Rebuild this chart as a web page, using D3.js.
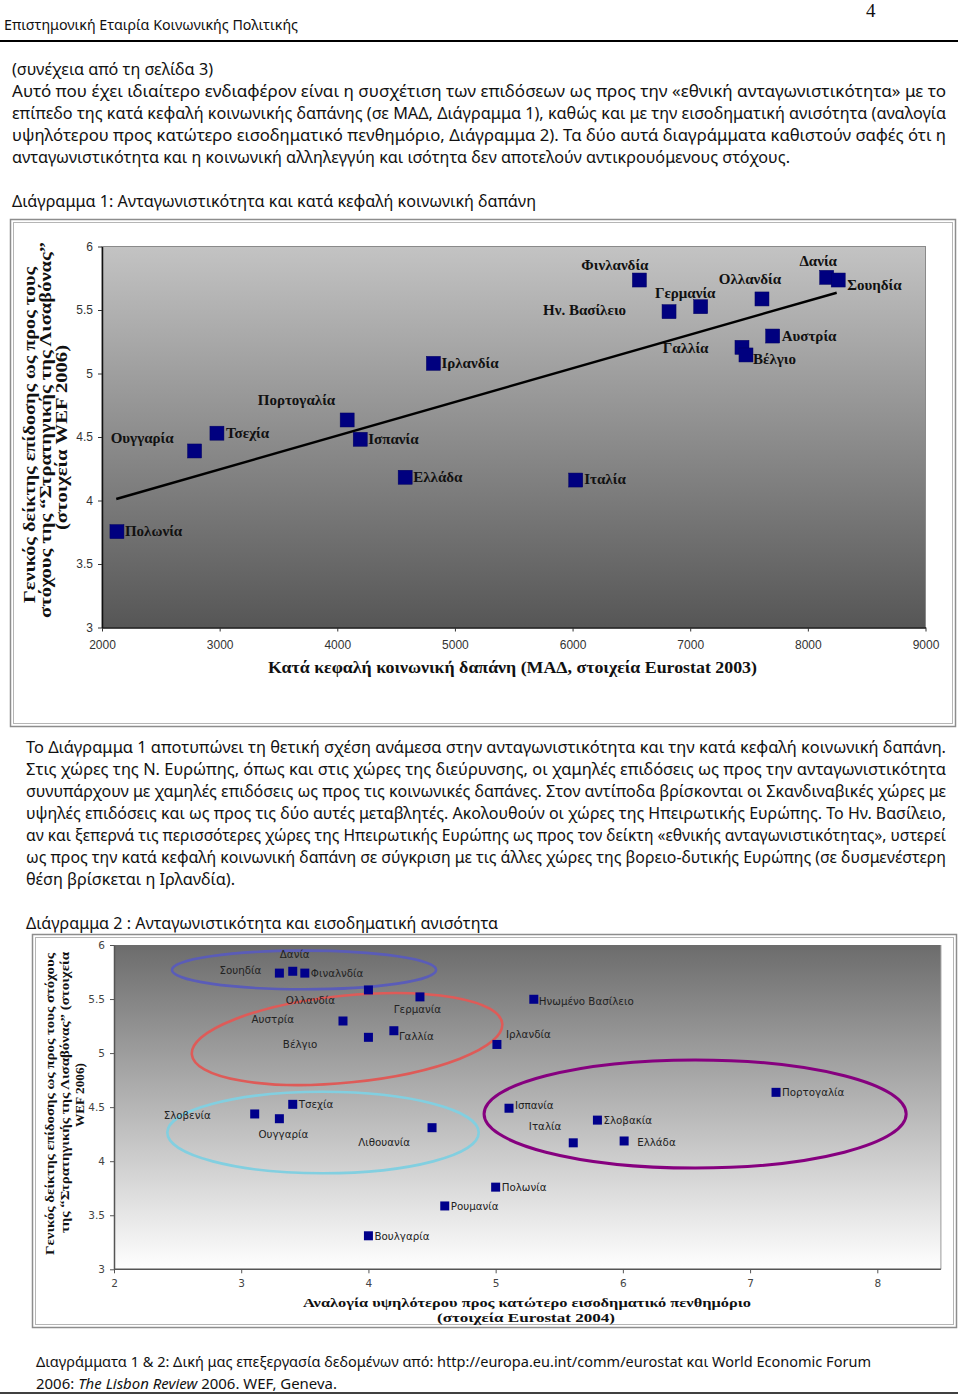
<!DOCTYPE html>
<html><head><meta charset="utf-8">
<script src="https://cdn.jsdelivr.net/npm/d3@7"></script>
<style>body{margin:0;background:#fff} svg{display:block}</style>
</head><body>
<svg id="page" width="960" height="1394"></svg>
<script>
// ---------- DATA ----------
const headerText = "Επιστημονική Εταιρία Κοινωνικής Πολιτικής";
const pageNumber = "4";
const para1Lines = [
  "(συνέχεια από τη σελίδα 3)",
  "Αυτό που έχει ιδιαίτερο ενδιαφέρον είναι η συσχέτιση των επιδόσεων ως προς την «εθνική ανταγωνιστικότητα» με το",
  "επίπεδο της κατά κεφαλή κοινωνικής δαπάνης  (σε ΜΑΔ, Διάγραμμα 1), καθώς και με την εισοδηματική ανισότητα (αναλογία",
  "υψηλότερου προς κατώτερο εισοδηματικό πενθημόριο, Διάγραμμα 2). Τα δύο αυτά διαγράμματα καθιστούν σαφές ότι η",
  "ανταγωνιστικότητα και η κοινωνική αλληλεγγύη και ισότητα δεν αποτελούν αντικρουόμενους στόχους."
];
const title1 = "Διάγραμμα 1: Ανταγωνιστικότητα και κατά κεφαλή κοινωνική δαπάνη";
const para2Lines = [
  "Το Διάγραμμα 1 αποτυπώνει τη θετική σχέση ανάμεσα στην ανταγωνιστικότητα και την κατά κεφαλή κοινωνική δαπάνη.",
  "Στις χώρες της Ν. Ευρώπης, όπως και στις χώρες της διεύρυνσης, οι χαμηλές επιδόσεις ως προς την ανταγωνιστικότητα",
  "συνυπάρχουν με χαμηλές επιδόσεις ως προς τις κοινωνικές δαπάνες. Στον αντίποδα βρίσκονται οι Σκανδιναβικές χώρες με",
  "υψηλές επιδόσεις και ως προς τις δύο αυτές μεταβλητές. Ακολουθούν οι χώρες της Ηπειρωτικής Ευρώπης. Το Ην. Βασίλειο,",
  "αν και ξεπερνά τις περισσότερες χώρες της Ηπειρωτικής Ευρώπης ως προς τον δείκτη «εθνικής ανταγωνιστικότητας», υστερεί",
  "ως προς την κατά κεφαλή κοινωνική δαπάνη σε σύγκριση με τις άλλες χώρες της βορειο-δυτικής Ευρώπης (σε δυσμενέστερη",
  "θέση βρίσκεται η Ιρλανδία)."
];
const title2 = "Διάγραμμα 2 : Ανταγωνιστικότητα και εισοδηματική ανισότητα";
const footer1 = "Διαγράμματα 1 & 2: Δική μας επεξεργασία δεδομένων από: http://europa.eu.int/comm/eurostat και World Economic Forum";
const footer2Parts = ["2006: ", "The Lisbon Review", " 2006. WEF, Geneva."];

// Chart 1
const countries1 = ["Πολωνία","Ουγγαρία","Τσεχία","Πορτογαλία","Ισπανία","Ελλάδα","Ιρλανδία","Ιταλία","Ην. Βασίλειο","Φινλανδία","Γερμανία","Ολλανδία","Δανία","Σουηδία","Αυστρία","Γαλλία","Βέλγιο"];
const spending1 = [2127,2787,2977,4084,4195,4577,4817,6027,6820,6568,7089,7610,8160,8258,7701,7440,7474];
const score1 =    [3.755,4.39,4.53,4.634,4.482,4.183,5.08,4.161,5.487,5.736,5.526,5.587,5.757,5.736,5.295,5.206,5.146];
const trendX1 = [2121, 8245];
const trendY1 = [4.012, 5.636];
const xTicks1 = [2000,3000,4000,5000,6000,7000,8000,9000];
const yTicks1 = [3,3.5,4,4.5,5,5.5,6];
const xTitle1 = "Κατά κεφαλή κοινωνική δαπάνη (ΜΑΔ, στοιχεία Eurostat 2003)";
const yTitle1 = ["Γενικός δείκτης επίδοσης ως προς τους","στόχους της “Στρατηγικής της Λισαβόνας”","(στοιχεία WEF 2006)"];

// Chart 2
const countries2 = ["Σουηδία","Δανία","Φιναλνδία","Ολλανδία","Γερμανία","Αυστρία","Βέλγιο","Γαλλία","Ηνωμένο Βασίλειο","Ιρλανδία","Τσεχία","Σλοβενία","Ουγγαρία","Λιθουανία","Πορτογαλία","Ισπανία","Σλοβακία","Ιταλία","Ελλάδα","Πολωνία","Ρουμανία","Βουλγαρία"];
const ratio2 = [3.30,3.405,3.50,4.00,4.405,3.80,4.00,4.20,5.30,5.01,3.405,3.106,3.30,4.50,7.204,5.105,5.80,5.61,6.01,5.00,4.60,4.00];
const score2 = [5.74,5.757,5.74,5.584,5.52,5.297,5.146,5.207,5.498,5.08,4.526,4.437,4.393,4.31,4.637,4.49,4.38,4.17,4.187,3.76,3.586,3.31];
const xTicks2 = [2,3,4,5,6,7,8];
const yTicks2 = [3,3.5,4,4.5,5,5.5,6];
const xTitle2 = ["Αναλογία υψηλότερου προς κατώτερο εισοδηματικό πενθημόριο","(στοιχεία Eurostat 2004)"];
const yTitle2 = ["Γενικός δείκτης επίδοσης ως προς τους στόχους","της “Στρατηγικής της Λισαβόνας”  (στοιχεία","WEF 2006)"];
// group ellipses (data units)
const ellCx = [3.494, 3.832, 3.643, 6.568];
const ellCy = [5.769, 5.130, 4.265, 4.437];
const ellRx = [1.038, 1.226, 1.224, 1.659];
const ellRy = [0.179, 0.402, 0.377, 0.500];
const ellAngle = [0, -5.7, 0, 0];

// ---------- LAYOUT / STYLE ----------
const ellColors = ["#5a5cb8","#de5b58","#82cfe0","#86007f"];
const bodyFont = "'Noto Sans', 'Open Sans', sans-serif";
const serifFont = "'Liberation Serif', 'DejaVu Serif', serif";

const svg = d3.select("#page");
svg.append("rect").attr("width",960).attr("height",1394).attr("fill","#fff");

function line(t, x, y, w, size, opts={}) {
  const el = svg.append("text").attr("x",x).attr("y",y).text(t)
    .attr("font-family", opts.family || bodyFont).attr("font-size",size).attr("fill", opts.fill || "#111");
  if (w) el.attr("textLength",w).attr("lengthAdjust","spacingAndGlyphs");
  return el;
}

// header
line(headerText, 4, 30, 294, 14.5);
line(pageNumber, 866, 17, null, 19, {family: serifFont});
svg.append("line").attr("x1",0).attr("x2",958).attr("y1",41).attr("y2",41).attr("stroke","#000").attr("stroke-width",2);

// paragraph 1
const p1W = [201,934,934,934,778];
para1Lines.forEach((t,i)=> line(t, 12, 75 + i*22, p1W[i], 15.5));
line(title1, 12, 207, 524, 15.5);

// paragraph 2
const p2W = [920,920,920,920,920,920,209];
para2Lines.forEach((t,i)=> line(t, 26, 753 + i*22, p2W[i], 15.5));
line(title2, 26, 929, 472, 15.5);

// footer
line(footer1, 36, 1367, 835, 15);
const f2 = svg.append("text").attr("x",36).attr("y",1389).attr("font-family",bodyFont).attr("font-size",15).attr("fill","#111")
  .attr("textLength",301).attr("lengthAdjust","spacingAndGlyphs");
f2.append("tspan").text(footer2Parts[0]);
f2.append("tspan").attr("font-style","italic").text(footer2Parts[1]);
f2.append("tspan").text(footer2Parts[2]);
svg.append("line").attr("x1",0).attr("x2",958).attr("y1",1393).attr("y2",1393).attr("stroke","#000").attr("stroke-width",1.5);

// ---------- defs ----------
const defs = svg.append("defs");
const g1 = defs.append("linearGradient").attr("id","grad1").attr("x1",0).attr("x2",0).attr("y1",0).attr("y2",1);
g1.append("stop").attr("offset","0%").attr("stop-color","#c3c3c3");
g1.append("stop").attr("offset","100%").attr("stop-color","#565656");
const g2 = defs.append("linearGradient").attr("id","grad2").attr("x1",0).attr("x2",0).attr("y1",0).attr("y2",1);
g2.append("stop").attr("offset","0%").attr("stop-color","#6c6c6c");
g2.append("stop").attr("offset","100%").attr("stop-color","#ffffff");

function frame(x,y,w,h){
  svg.append("rect").attr("x",x+0.5).attr("y",y+0.5).attr("width",w).attr("height",h).attr("fill","none").attr("stroke","#8d8d8d").attr("stroke-width",1.5);
  svg.append("rect").attr("x",x+3.5).attr("y",y+3.5).attr("width",w-6).attr("height",h-6).attr("fill","none").attr("stroke","#b5b5b5").attr("stroke-width",1);
}

// ---------- CHART 1 ----------
frame(10,219,945,507);
const x1 = d3.scaleLinear().domain([2000,9000]).range([102,925.5]);
const y1 = d3.scaleLinear().domain([3,6]).range([627.5,246.5]);
svg.append("rect").attr("x",x1(2000)).attr("y",y1(6)).attr("width",x1(9000)-x1(2000)).attr("height",y1(3)-y1(6))
  .attr("fill","url(#grad1)").attr("stroke","#8a8a8a").attr("stroke-width",1);

const gx1 = svg.append("g").attr("transform",`translate(0,${y1(3)})`)
  .call(d3.axisBottom(x1).tickValues(xTicks1).tickSize(4).tickSizeOuter(0).tickPadding(9).tickFormat(d=>String(d)));
const gy1 = svg.append("g").attr("transform",`translate(${x1(2000)},0)`)
  .call(d3.axisLeft(y1).tickValues(yTicks1).tickSize(4).tickSizeOuter(0).tickPadding(5).tickFormat(d=>String(d)));
[gx1,gy1].forEach(g=>{
  g.select(".domain").attr("stroke","#111").attr("stroke-width",1.5);
  g.selectAll(".tick line").attr("stroke","#333");
  g.selectAll("text").attr("font-family","'Liberation Sans', Arial, sans-serif").attr("font-size",12).attr("fill","#333");
});

svg.append("path").datum(trendX1.map((d,i)=>[d,trendY1[i]]))
  .attr("d", d3.line().x(d=>x1(d[0])).y(d=>y1(d[1])))
  .attr("stroke","#000").attr("stroke-width",2.4).attr("fill","none");

const pts1 = countries1.map((c,i)=>({c, x: spending1[i], y: score1[i]}));
const lab1 = {
  "Πολωνία":["start",8,4], "Ουγγαρία":["end",-21,-8], "Τσεχία":["start",9,4.5],
  "Πορτογαλία":["end",-12,-15], "Ισπανία":["start",8,4.5], "Ελλάδα":["start",8,4.5],
  "Ιρλανδία":["start",8,5], "Ιταλία":["start",8.5,4], "Ην. Βασίλειο":["end",-43,3],
  "Φινλανδία":["middle",-24.5,-10], "Γερμανία":["middle",-15.5,-8.5], "Ολλανδία":["middle",-12,-14.5],
  "Δανία":["middle",-8.5,-11.5], "Σουηδία":["start",9,10], "Αυστρία":["start",9,5],
  "Γαλλία":["end",-33.5,6], "Βέλγιο":["start",7,9.5]
};
svg.append("g").selectAll("rect").data(pts1).join("rect")
  .attr("x",d=>x1(d.x)-7).attr("y",d=>y1(d.y)-7).attr("width",14).attr("height",14)
  .attr("fill","#00007f").attr("stroke","#000060").attr("stroke-width",0.5);
svg.append("g").selectAll("text").data(pts1).join("text")
  .attr("x",d=>x1(d.x)+lab1[d.c][1]).attr("y",d=>y1(d.y)+lab1[d.c][2])
  .attr("text-anchor",d=>lab1[d.c][0])
  .attr("font-family",serifFont).attr("font-weight","bold").attr("font-size",15).attr("fill","#111")
  .text(d=>d.c);

line(xTitle1, 268, 673, 489, 17, {family: serifFont}).attr("font-weight","bold");
const yt1x = [35,51,67], yt1s = [603,618,530], yt1w = [336,376,185];
yTitle1.forEach((t,i)=>{
  svg.append("text").attr("transform",`translate(${yt1x[i]},${yt1s[i]}) rotate(-90)`)
    .attr("font-family",serifFont).attr("font-weight","bold").attr("font-size",16).attr("fill","#111")
    .attr("textLength",yt1w[i]).attr("lengthAdjust","spacingAndGlyphs").text(t);
});

// ---------- CHART 2 ----------
frame(32,934,924,393);
const x2 = d3.scaleLinear().domain([2,8]).range([114,877.3]);
const y2 = d3.scaleLinear().domain([3,6]).range([1269.3,945]);
const xMax2 = 8.5;
svg.append("rect").attr("x",x2(2)).attr("y",y2(6)).attr("width",x2(xMax2)-x2(2)).attr("height",y2(3)-y2(6))
  .attr("fill","url(#grad2)");
svg.append("line").attr("x1",x2(xMax2)).attr("x2",x2(xMax2)).attr("y1",y2(6)).attr("y2",y2(3)).attr("stroke","#9a9a9a");

const gx2 = svg.append("g").attr("transform",`translate(0,${y2(3)})`)
  .call(d3.axisBottom(x2).tickValues(xTicks2).tickSize(4).tickSizeOuter(0).tickPadding(6).tickFormat(d=>String(d)));
gx2.select(".domain").attr("d",`M${x2(2)},0H${x2(xMax2)}`);
const gy2 = svg.append("g").attr("transform",`translate(${x2(2)},0)`)
  .call(d3.axisLeft(y2).tickValues(yTicks2).tickSize(4).tickSizeOuter(0).tickPadding(5).tickFormat(d=>String(d)));
[gx2,gy2].forEach(g=>{
  g.select(".domain").attr("stroke","#555").attr("stroke-width",1.5);
  g.selectAll(".tick line").attr("stroke","#555");
  g.selectAll("text").attr("font-family","'DejaVu Sans', sans-serif").attr("font-size",10.5).attr("fill","#444");
});

// ellipses
ellCx.forEach((cx,i)=>{
  const px = x2(cx), py = y2(ellCy[i]);
  const rx = x2(cx+ellRx[i]) - px, ry = y2(ellCy[i]-ellRy[i]) - py;
  svg.append("ellipse").attr("cx",px).attr("cy",py).attr("rx",rx).attr("ry",ry)
    .attr("transform",`rotate(${ellAngle[i]},${px},${py})`)
    .attr("fill","none").attr("stroke",ellColors[i]).attr("stroke-width", i===3 ? 3 : 2.6);
});

const pts2 = countries2.map((c,i)=>({c, x: ratio2[i], y: score2[i]}));
const lab2 = {
  "Σουηδία":["end",-18,1], "Δανία":["middle",2,-13], "Φιναλνδία":["start",6,3.5],
  "Ολλανδία":["middle",-58,14], "Γερμανία":["middle",-2.5,16], "Αυστρία":["end",-49,2],
  "Βέλγιο":["end",-51,11], "Γαλλία":["start",5,9], "Ηνωμένο Βασίλειο":["start",5,6],
  "Ιρλανδία":["start",9,-6], "Τσεχία":["start",6,4], "Σλοβενία":["end",-44,5],
  "Ουγγαρία":["middle",4,19], "Λιθουανία":["end",-22,18.5], "Πορτογαλία":["start",6,4],
  "Ισπανία":["start",6,1], "Σλοβακία":["start",6,4], "Ιταλία":["end",-12,-13],
  "Ελλάδα":["start",13,5], "Πολωνία":["start",6,4], "Ρουμανία":["start",6,4], "Βουλγαρία":["start",6,4]
};
svg.append("g").selectAll("rect").data(pts2).join("rect")
  .attr("x",d=>x2(d.x)-4.5).attr("y",d=>y2(d.y)-4.5).attr("width",9).attr("height",9)
  .attr("fill","#00008b");
svg.append("g").selectAll("text").data(pts2).join("text")
  .attr("x",d=>x2(d.x)+lab2[d.c][1]).attr("y",d=>y2(d.y)+lab2[d.c][2])
  .attr("text-anchor",d=>lab2[d.c][0])
  .attr("font-family","'DejaVu Sans', sans-serif").attr("font-size",10.3).attr("fill","#222")
  .text(d=>d.c);

line(xTitle2[0], 303, 1307, 448, 13.5, {family: serifFont}).attr("font-weight","bold");
line(xTitle2[1], 437, 1321.5, 178, 13.5, {family: serifFont}).attr("font-weight","bold");
const yt2x = [54,69,84], yt2s = [1255,1233,1127], yt2w = [302,281,64];
yTitle2.forEach((t,i)=>{
  svg.append("text").attr("transform",`translate(${yt2x[i]},${yt2s[i]}) rotate(-90)`)
    .attr("font-family",serifFont).attr("font-weight","bold").attr("font-size",13.5).attr("fill","#111")
    .attr("textLength",yt2w[i]).attr("lengthAdjust","spacingAndGlyphs").text(t);
});
</script>
</body></html>
